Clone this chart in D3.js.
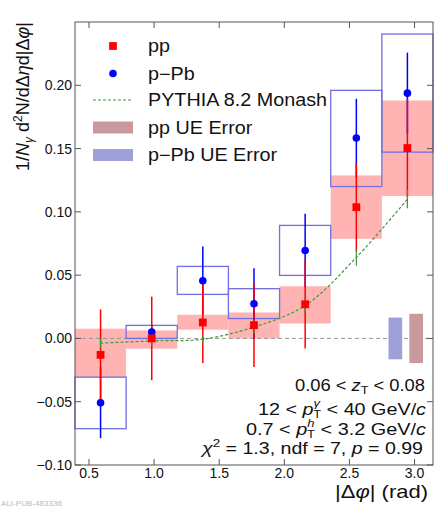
<!DOCTYPE html>
<html><head><meta charset="utf-8">
<script src="https://cdn.jsdelivr.net/npm/d3@7"></script>
<style>
html,body{margin:0;padding:0;background:#fff;}
svg{display:block;font-family:"Liberation Sans",Arial,Helvetica,sans-serif;}
</style></head>
<body>
<svg id="c" width="435" height="508"></svg>
<script>
// ---- data ----
const binEdges = [0.3927, 0.7854, 1.1781, 1.5708, 1.9635, 2.3562, 2.7489, 3.1416];
const binCenters = [0.589, 0.982, 1.374, 1.767, 2.160, 2.553, 2.945];
const ppY = [-0.013, 0.000, 0.0126, 0.0105, 0.027, 0.1037, 0.1504];
const ppStat = [0.036, 0.033, 0.032, 0.033, 0.035, 0.035, 0.039];
const ppUELow = [-0.0306, -0.0081, 0.0069, 0.0, 0.0118, 0.0787, 0.1125];
const ppUEHigh = [0.0077, 0.0063, 0.0187, 0.0205, 0.0412, 0.1288, 0.188];
const pPbY = [-0.0508, 0.005, 0.0456, 0.0274, 0.0695, 0.1583, 0.1938];
const pPbStat = [0.028, 0.006, 0.027, 0.028, 0.029, 0.031, 0.032];
const pPbUELow = [-0.0713, 0.0, 0.0348, 0.0157, 0.0498, 0.120, 0.1472];
const pPbUEHigh = [-0.0306, 0.0103, 0.0569, 0.0393, 0.0893, 0.196, 0.2405];
const pythiaY = [-0.0037, -0.002, -0.0006, 0.009, 0.026, 0.064, 0.110];
const pythiaErr = [0.004, 0.004, 0.003, 0.005, 0.006, 0.0066, 0.0072];
const globalErrLabels = ["p-Pb", "pp"];
const globalErr = [0.0165, 0.0195];
const globalErrX = [[2.80, 2.905], [2.96, 3.065]];
const xTicks = [0.5, 1.0, 1.5, 2.0, 2.5, 3.0];
const yTicks = [-0.10, -0.05, 0.00, 0.05, 0.10, 0.15, 0.20];
const legTexts = ["pp", "p\u2212Pb", "PYTHIA 8.2 Monash", "pp UE Error", "p\u2212Pb UE Error"];

// ---- colours ----
const RED = "#ff0000", BLUE = "#0000ff", GREEN = "#3a9a3a";
const PINK = "#ffb3b3", BOXBLUE = "#7070e0";
const UE_PP = "#c99a9c", UE_PPB = "#9fa0d8";

const svg = d3.select("#c");
const L = 75, R = 433, T = 22, B = 465;
const x = d3.scaleLinear().domain([Math.PI / 8, Math.PI]).range([L, R]);
const y = d3.scaleLinear().domain([-0.1, 0.25]).range([B, T]);

const idx = d3.range(binCenters.length);

// pp UE boxes (filled)
svg.append("g").selectAll("rect").data(idx).join("rect")
  .attr("x", i => x(binEdges[i])).attr("width", i => x(binEdges[i + 1]) - x(binEdges[i]))
  .attr("y", i => y(ppUEHigh[i])).attr("height", i => y(ppUELow[i]) - y(ppUEHigh[i]))
  .attr("fill", PINK);

// zero line
svg.append("line").attr("x1", L).attr("x2", R).attr("y1", y(0)).attr("y2", y(0))
  .attr("stroke", "#999").attr("stroke-width", 1).attr("stroke-dasharray", "4,3");

// p-Pb UE boxes (outlined)
svg.append("g").selectAll("rect").data(idx).join("rect")
  .attr("x", i => x(binEdges[i])).attr("width", i => x(binEdges[i + 1]) - x(binEdges[i]))
  .attr("y", i => y(pPbUEHigh[i])).attr("height", i => y(pPbUELow[i]) - y(pPbUEHigh[i]))
  .attr("fill", "none").attr("stroke", BOXBLUE).attr("stroke-width", 1.3);

// p-Pb stat error bars
svg.append("g").selectAll("line").data(idx).join("line")
  .attr("x1", i => x(binCenters[i])).attr("x2", i => x(binCenters[i]))
  .attr("y1", i => y(pPbY[i] - pPbStat[i])).attr("y2", i => y(pPbY[i] + pPbStat[i]))
  .attr("stroke", BLUE).attr("stroke-width", 1.5);
// pp stat error bars
svg.append("g").selectAll("line").data(idx).join("line")
  .attr("x1", i => x(binCenters[i])).attr("x2", i => x(binCenters[i]))
  .attr("y1", i => y(ppY[i] - ppStat[i])).attr("y2", i => y(ppY[i] + ppStat[i]))
  .attr("stroke", RED).attr("stroke-width", 1.5);
// PYTHIA error bars
svg.append("g").selectAll("line").data(idx).join("line")
  .attr("x1", i => x(binCenters[i])).attr("x2", i => x(binCenters[i]))
  .attr("y1", i => y(pythiaY[i] - pythiaErr[i])).attr("y2", i => y(pythiaY[i] + pythiaErr[i]))
  .attr("stroke", GREEN).attr("stroke-width", 1.2);
// PYTHIA curve
const line = d3.line().x(i => x(binCenters[i])).y(i => y(pythiaY[i])).curve(d3.curveCatmullRom);
svg.append("path").attr("d", line(idx)).attr("fill", "none")
  .attr("stroke", GREEN).attr("stroke-width", 1.2).attr("stroke-dasharray", "3,2");

// markers
svg.append("g").selectAll("circle").data(idx).join("circle")
  .attr("cx", i => x(binCenters[i])).attr("cy", i => y(pPbY[i])).attr("r", 3.8).attr("fill", BLUE);
svg.append("g").selectAll("rect").data(idx).join("rect")
  .attr("x", i => x(binCenters[i]) - 3.9).attr("y", i => y(ppY[i]) - 3.9)
  .attr("width", 7.8).attr("height", 7.8).attr("fill", RED);

// global UE error boxes at right
svg.append("g").selectAll("rect").data([0, 1]).join("rect")
  .attr("x", i => x(globalErrX[i][0])).attr("width", i => x(globalErrX[i][1]) - x(globalErrX[i][0]))
  .attr("y", i => y(globalErr[i])).attr("height", i => y(-globalErr[i]) - y(globalErr[i]))
  .attr("fill", (d, i) => i === 0 ? UE_PPB : UE_PP);

// frame & axes
const axG = svg.append("g").attr("stroke", "#555").attr("fill", "none");
axG.append("rect").attr("x", L).attr("y", T).attr("width", R - L).attr("height", B - T).attr("stroke-width", 1);
const tl = 6;
xTicks.forEach(v => {
  axG.append("line").attr("x1", x(v)).attr("x2", x(v)).attr("y1", B).attr("y2", B - tl);
  axG.append("line").attr("x1", x(v)).attr("x2", x(v)).attr("y1", T).attr("y2", T + tl);
});
yTicks.forEach(v => {
  axG.append("line").attr("x1", L).attr("x2", L + tl).attr("y1", y(v)).attr("y2", y(v));
  axG.append("line").attr("x1", R).attr("x2", R - tl).attr("y1", y(v)).attr("y2", y(v));
});
const fx = d3.format(".1f"), fy = d3.format(".2f");
svg.append("g").selectAll("text").data(xTicks).join("text")
  .attr("x", d => x(d)).attr("y", B + 13).attr("text-anchor", "middle")
  .attr("font-size", 14).attr("fill", "#111").text(d => fx(d));
svg.append("g").selectAll("text").data(yTicks).join("text")
  .attr("x", L - 3).attr("y", d => y(d) + 5).attr("text-anchor", "end")
  .attr("font-size", 14).attr("fill", "#111").text(d => fy(d));

// axis titles
const xt = svg.append("text").attr("x", 428).attr("y", 498).attr("text-anchor", "end")
  .attr("font-size", 18.5).attr("fill", "#111")
  .attr("textLength", 93).attr("lengthAdjust", "spacingAndGlyphs");
xt.append("tspan").text("|Δ");
xt.append("tspan").attr("font-style", "italic").text("φ");
xt.append("tspan").text("| (rad)");

const yt = svg.append("text").attr("transform", "translate(29,22) rotate(-90)")
  .attr("text-anchor", "end").attr("font-size", 18).attr("fill", "#111");
yt.append("tspan").text("1/");
yt.append("tspan").attr("font-style", "italic").text("N");
yt.append("tspan").attr("font-size", 12).attr("font-style", "italic").attr("dy", 4).text("γ");
yt.append("tspan").attr("dy", -4).text(" d");
yt.append("tspan").attr("font-size", 12).attr("dy", -7).text("2");
yt.append("tspan").attr("dy", 7).text("N/dΔ");
yt.append("tspan").attr("font-style", "italic").text("η");
yt.append("tspan").text("d|Δ");
yt.append("tspan").attr("font-style", "italic").text("φ");
yt.append("tspan").text("|");

// legend
const lg = svg.append("g");
const lx = 113, ltx = 148;
const rows = [46, 73.5, 100, 127.5, 155];
lg.append("rect").attr("x", lx - 3.9).attr("y", rows[0] - 3.9).attr("width", 7.8).attr("height", 7.8).attr("fill", RED);
lg.append("circle").attr("cx", lx).attr("cy", rows[1]).attr("r", 3.8).attr("fill", BLUE);
lg.append("line").attr("x1", 93).attr("x2", 133).attr("y1", rows[2]).attr("y2", rows[2])
  .attr("stroke", GREEN).attr("stroke-width", 1.2).attr("stroke-dasharray", "3,2");
lg.append("rect").attr("x", 93).attr("width", 40).attr("y", rows[3] - 6).attr("height", 12).attr("fill", UE_PP);
lg.append("rect").attr("x", 93).attr("width", 40).attr("y", rows[4] - 6).attr("height", 12).attr("fill", UE_PPB);
lg.selectAll("text").data(legTexts).join("text")
  .attr("transform", (d, i) => `translate(${ltx},${rows[i] + 6.3}) scale(1.13,1)`)
  .attr("font-size", 17.5).attr("fill", "#111").text(d => d);

// info text
const tx = 425;
const info = svg.append("g").attr("font-size", 16).attr("fill", "#111").attr("text-anchor", "end");
let t = info.append("text").attr("x", tx).attr("y", 391)
  .attr("textLength", 130).attr("lengthAdjust", "spacingAndGlyphs");
t.append("tspan").text("0.06 < ");
t.append("tspan").attr("font-style", "italic").text("z");
t.append("tspan").attr("font-size", 11).attr("dy", 3).text("T");
t.append("tspan").attr("dy", -3).text(" < 0.08");

t = info.append("text").attr("x", tx + 1).attr("y", 415)
  .attr("textLength", 168).attr("lengthAdjust", "spacingAndGlyphs");
t.append("tspan").text("12 < ");
t.append("tspan").attr("font-style", "italic").text("p");
t.append("tspan").attr("font-size", 10.5).attr("font-style", "italic").attr("dy", -8).text("γ");
t.append("tspan").attr("font-size", 10.5).attr("dx", -5.5).attr("dy", 11).text("T");
t.append("tspan").attr("dy", -3).text(" < 40 GeV/");
t.append("tspan").attr("font-style", "italic").text("c");

t = info.append("text").attr("x", tx + 1).attr("y", 435)
  .attr("textLength", 180).attr("lengthAdjust", "spacingAndGlyphs");
t.append("tspan").text("0.7 < ");
t.append("tspan").attr("font-style", "italic").text("p");
t.append("tspan").attr("font-size", 10.5).attr("font-style", "italic").attr("dy", -8).text("h");
t.append("tspan").attr("font-size", 10.5).attr("dx", -6).attr("dy", 11).text("T");
t.append("tspan").attr("dy", -3).text(" < 3.2 GeV/");
t.append("tspan").attr("font-style", "italic").text("c");

t = info.append("text").attr("x", tx - 2).attr("y", 454)
  .attr("textLength", 221).attr("lengthAdjust", "spacingAndGlyphs");
t.append("tspan").attr("font-style", "italic").text("χ");
t.append("tspan").attr("font-size", 11).attr("dy", -7).text("2");
t.append("tspan").attr("dy", 7).text(" = 1.3, ndf = 7, ");
t.append("tspan").attr("font-style", "italic").text("p");
t.append("tspan").text(" = 0.99");

// watermark
svg.append("text").attr("x", 1).attr("y", 506).attr("font-size", 7).attr("fill", "#bbb")
  .attr("textLength", 61).attr("lengthAdjust", "spacingAndGlyphs").text("ALI-PUB-483336");
</script>
</body></html>
